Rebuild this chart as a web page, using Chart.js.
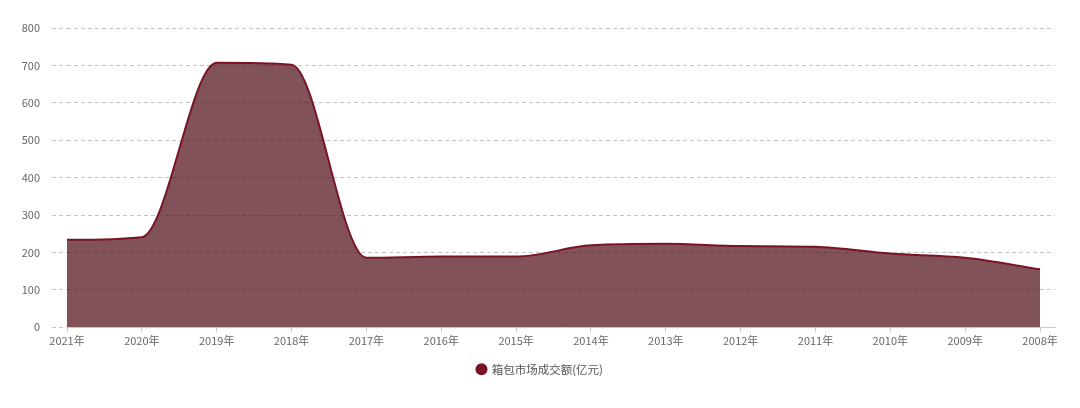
<!DOCTYPE html>
<html>
<head>
<meta charset="utf-8">
<script src="https://cdn.jsdelivr.net/npm/chart.js@4/dist/chart.umd.min.js"></script>
<style>
    html, body { margin: 0; padding: 0; background: #fff; }
    #wrap { width: 1080px; height: 408px; }
</style>
</head>
<body>
<div id="wrap"><canvas id="myChart"></canvas></div>
<script>
// Data

const years = ["2021年", "2020年", "2019年", "2018年", "2017年", "2016年", "2015年",
    "2014年", "2013年", "2012年", "2011年", "2010年", "2009年", "2008年"];
const amounts = [234, 241, 707, 702, 186, 189, 189, 219, 223, 217, 215, 197, 186, 155];
const seriesName = "箱包市场成交额(亿元)";
const yTicks = [0, 100, 200, 300, 400, 500, 600, 700, 800];

const font = '"Microsoft YaHei", "Noto Sans CJK SC", sans-serif';

// Setup

const data = {
    datasets: [
        {
            label: seriesName,
            data: amounts.map((v, i) => ({ x: i, y: v })),
            borderColor: "#7a1424",
            backgroundColor: "rgba(76, 8, 19, 0.7)",
            borderWidth: 2,
            fill: "origin",
            pointRadius: 0,
            pointHoverRadius: 0,
            cubicInterpolationMode: "monotone"
        }
    ]
};

// keep the legend centred on the whole canvas
const centerLegend = {
    id: "centerLegend",
    afterLayout: chart => {
        chart.legend.left = 0;
        chart.legend.right = chart.width;
    }
};

// Config

const config = {
    type: "line",
    data,
    options: {
        responsive: true,
        maintainAspectRatio: false,
        animation: false,
        layout: {
            padding: { top: 28, right: 25, bottom: 23, left: 10 }
        },
        plugins: {
            tooltip: { enabled: false },
            legend: {
                position: "bottom",
                labels: {
                    usePointStyle: true,
                    pointStyle: "circle",
                    boxWidth: 9,
                    boxHeight: 8.5,
                    color: "#555",
                    padding: 14,
                    font: { family: font, size: 11.5 },
                    generateLabels: chart => [{
                        text: seriesName,
                        fillStyle: "#7a1424",
                        strokeStyle: "#7a1424",
                        lineWidth: 0,
                        pointStyle: "circle",
                        fontColor: "#555",
                        datasetIndex: 0
                    }]
                }
            }
        },
        scales: {
            x: {
                type: "linear",
                min: 0,
                max: 13.2,
                afterBuildTicks: scale => {
                    scale.ticks = years.map((_, i) => ({ value: i }));
                },
                ticks: {
                    autoSkip: false,
                    maxRotation: 0,
                    color: "#666",
                    padding: 2,
                    font: { family: font, size: 11 },
                    callback: value => years[value]
                },
                grid: {
                    drawOnChartArea: false,
                    drawTicks: true,
                    tickLength: 5,
                    color: "#ccc"
                },
                border: { color: "#ccc", width: 1 }
            },
            y: {
                min: 0,
                max: 800,
                afterBuildTicks: scale => {
                    scale.ticks = yTicks.map(v => ({ value: v }));
                },
                afterFit: scale => {
                    scale.width = 57;
                },
                ticks: {
                    color: "#666",
                    padding: 12,
                    font: { family: font, size: 11 }
                },
                grid: {
                    color: "#c4c4c4",
                    borderDash: [4, 3],
                    tickLength: 15,
                    tickBorderDash: [4, 3],
                    tickColor: "#c4c4c4"
                },
                border: { display: false, dash: [4, 3] }
            }
        }
    },
    plugins: [centerLegend]
};

// Render

const myChart = new Chart(document.getElementById("myChart"), config);
</script>
</body>
</html>
